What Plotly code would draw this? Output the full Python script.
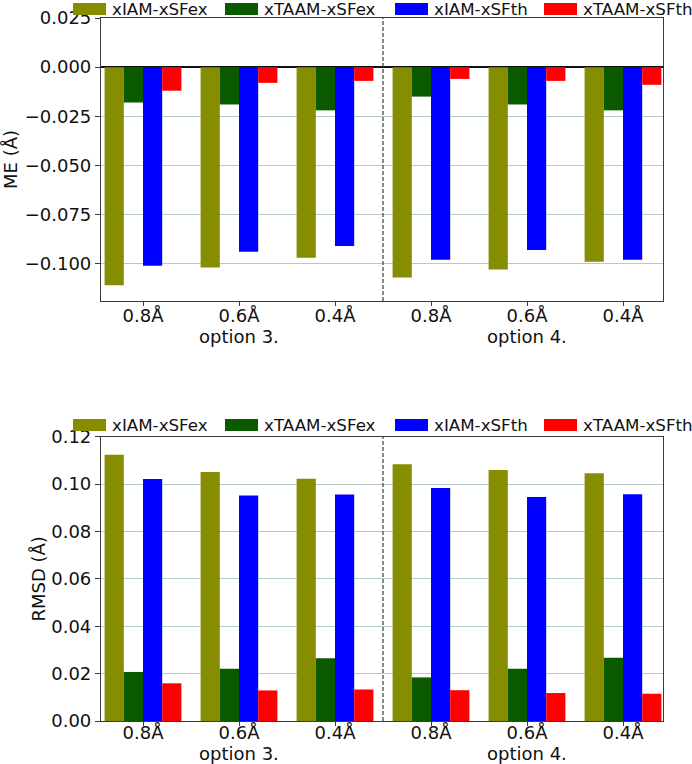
import plotly.graph_objects as go
from plotly.subplots import make_subplots

# ---- data ----
resolutions = ["0.8Å", "0.6Å", "0.4Å", "0.8Å", "0.6Å", "0.4Å"]
options = ["option 3.", "option 4."]
series_names = ["xIAM-xSFex", "xTAAM-xSFex", "xIAM-xSFth", "xTAAM-xSFth"]
series_colors = ["#878d00", "#0b5a00", "#0000ff", "#ff0000"]

me_xIAM_xSFex = [-0.111, -0.102, -0.097, -0.107, -0.103, -0.099]
me_xTAAM_xSFex = [-0.018, -0.019, -0.022, -0.015, -0.019, -0.022]
me_xIAM_xSFth = [-0.101, -0.094, -0.091, -0.098, -0.093, -0.098]
me_xTAAM_xSFth = [-0.012, -0.008, -0.007, -0.006, -0.007, -0.009]

rmsd_xIAM_xSFex = [0.1124, 0.1051, 0.1022, 0.1084, 0.1059, 0.1046]
rmsd_xTAAM_xSFex = [0.0207, 0.0221, 0.0265, 0.0184, 0.0221, 0.0267]
rmsd_xIAM_xSFth = [0.1021, 0.0952, 0.0956, 0.0983, 0.0946, 0.0957]
rmsd_xTAAM_xSFth = [0.0159, 0.0129, 0.0133, 0.0130, 0.0118, 0.0115]

me_series = [me_xIAM_xSFex, me_xTAAM_xSFex, me_xIAM_xSFth, me_xTAAM_xSFth]
rmsd_series = [rmsd_xIAM_xSFex, rmsd_xTAAM_xSFex, rmsd_xIAM_xSFth, rmsd_xTAAM_xSFth]

# ---- layout constants (pixels) ----
FONT = "DejaVu Sans"
W, H = 692, 764
ML, MR, MT, MB = 101, 29, 18, 43
PW, PH = W - ML - MR, H - MT - MB
TOP_BOTTOM_PX = 301      # bottom edge of upper panel
BOT_TOP_PX = 436.7       # top edge of lower panel
LEG_Y_PX = [9, 425]      # legend row centres
LEG_PATCH_X = [73, 225, 395, 544]
LEG_TEXT_X = [110, 262, 432, 581]
PATCH_W, PATCH_H = 33, 12
OPTION_Y_PX = [336, 753]


def px_x(px):
    return (px - ML) / PW


def px_y(py):
    return (H - MB - py) / PH


x = list(range(len(resolutions)))
per_opt = len(resolutions) // len(options)

fig = make_subplots(rows=2, cols=1, vertical_spacing=0.0)

for name, color, vals in zip(series_names, series_colors, me_series):
    fig.add_trace(go.Bar(x=x, y=vals, name=name, showlegend=False,
                         marker=dict(color=color, line=dict(width=0))), row=1, col=1)
for name, color, vals in zip(series_names, series_colors, rmsd_series):
    fig.add_trace(go.Bar(x=x, y=vals, name=name, showlegend=False,
                         marker=dict(color=color, line=dict(width=0))), row=2, col=1)

grid = "#b6caca"
spine = "#3a3a3a"
txt = "#111111"
xrange = [-0.4375, len(resolutions) - 1 + 0.4167]
common_x = dict(range=xrange, tickmode="array", tickvals=x, ticktext=resolutions, automargin=False,
                showgrid=False, zeroline=False, showline=True, linecolor=spine, linewidth=1.2,
                mirror=True, ticks="outside", ticklen=4, tickcolor=spine, ticklabelstandoff=-6,
                tickfont=dict(family=FONT, size=18, color=txt))
common_y = dict(showgrid=True, gridcolor=grid, gridwidth=1.4, showline=True, linecolor=spine,
                linewidth=1.2, mirror=True, ticks="outside", ticklen=5, tickcolor=spine,
                automargin=False, tickfont=dict(family=FONT, size=18, color=txt))

fig.update_xaxes(**common_x, domain=[0, 1])
fig.update_xaxes(row=2, col=1, ticklabelstandoff=-9)
fig.update_yaxes(**common_y)
fig.update_yaxes(row=1, col=1, domain=[px_y(TOP_BOTTOM_PX), 1.0], range=[-0.119, 0.025],
                 dtick=0.025, tick0=0, tickformat=".3f", zeroline=True, zerolinecolor=txt,
                 zerolinewidth=1.5,
                 title=dict(text="ME (Å)", font=dict(family=FONT, size=18, color=txt), standoff=4))
fig.update_yaxes(row=2, col=1, domain=[0.0, px_y(BOT_TOP_PX)], range=[0, 0.12], dtick=0.02,
                 tick0=0, tickformat=".2f", zeroline=False,
                 title=dict(text="RMSD (Å)", font=dict(family=FONT, size=18, color=txt), standoff=0))

# dashed separator between the two option groups
sep = per_opt - 0.5
for xr, yr in [("x", "y domain"), ("x2", "y2 domain")]:
    fig.add_shape(type="line", xref=xr, yref=yr, x0=sep, x1=sep, y0=0, y1=1,
                  line=dict(color=spine, width=1.2, dash="4px,2px"))

# option labels under the middle tick of each group
for xr, ypx in zip(["x", "x2"], OPTION_Y_PX):
    for k, opt in enumerate(options):
        fig.add_annotation(x=k * per_opt + (per_opt - 1) / 2, xref=xr, y=px_y(ypx), yref="paper",
                           text=opt, showarrow=False, xanchor="center", yanchor="middle",
                           borderpad=0, font=dict(family=FONT, size=18, color=txt))

# legends (matplotlib-style wide patches)
for ly in LEG_Y_PX:
    for name, color, pxx, txx in zip(series_names, series_colors, LEG_PATCH_X, LEG_TEXT_X):
        fig.add_shape(type="rect", xref="paper", yref="paper",
                      x0=px_x(pxx), x1=px_x(pxx + PATCH_W),
                      y0=px_y(ly - PATCH_H / 2), y1=px_y(ly + PATCH_H / 2),
                      fillcolor=color, line=dict(width=0), layer="above")
        fig.add_annotation(x=px_x(txx), y=px_y(ly), xref="paper", yref="paper", text=name,
                           showarrow=False, xanchor="left", yanchor="middle",
                           font=dict(family=FONT, size=16.7, color=txt))

fig.update_layout(
    width=W, height=H,
    margin=dict(l=ML, r=MR, t=MT, b=MB, pad=0, autoexpand=False),
    barmode="group", bargap=0.2, bargroupgap=0.0,
    plot_bgcolor="white", paper_bgcolor="white",
    font=dict(family=FONT, size=18, color=txt),
    showlegend=False,
)

fig.write_html("out.html", config={"displayModeBar": False},
               post_script="document.body.style.margin='0px';")
